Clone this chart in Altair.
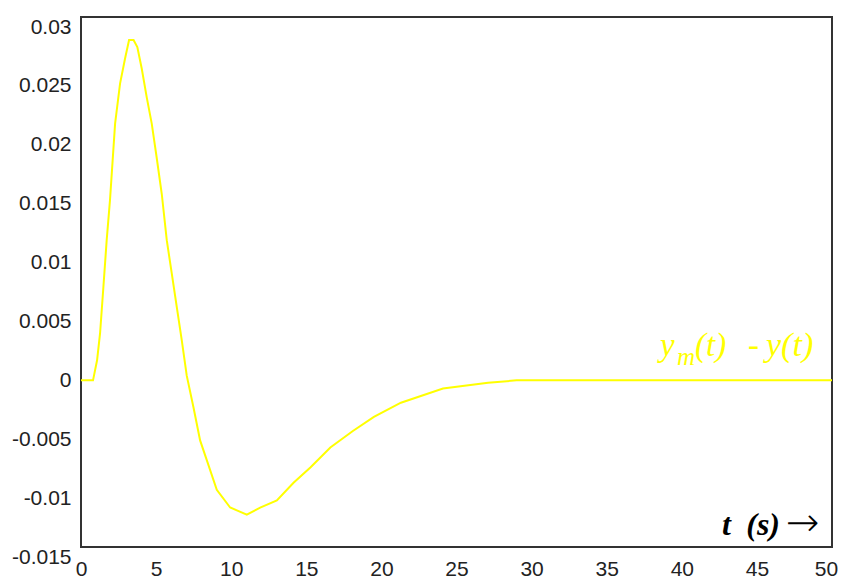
import altair as alt
import pandas as pd

# time (s) and error y_m(t) - y(t)
t_s = [0, 0.8, 1.07, 1.27, 1.49, 1.71, 1.93, 2.27, 2.6, 2.93, 3.2, 3.5, 3.75,
       4.04, 4.38, 4.71, 5.04, 5.38, 5.71, 6.04, 6.38, 6.71, 7.04, 7.49, 7.93,
       8.38, 9.04, 9.93, 11.04, 11.93, 13.04, 14.15, 15.27, 16.6, 18.1, 19.5,
       21.3, 24.1, 27.1, 29, 50]
err = [0, 0, 0.0017, 0.0040, 0.0079, 0.0119, 0.0153, 0.0218, 0.0252, 0.0273,
       0.0289, 0.0289, 0.0283, 0.0265, 0.0240, 0.0218, 0.0189, 0.0158, 0.0119,
       0.0091, 0.0062, 0.0034, 0.0004, -0.0023, -0.0051, -0.0068, -0.0093,
       -0.0108, -0.0114, -0.0108, -0.0102, -0.0087, -0.0074, -0.0057, -0.0043,
       -0.0031, -0.0019, -0.0007, -0.0002, 0, 0]

x_ticks = [0, 5, 10, 15, 20, 25, 30, 35, 40, 45, 50]
y_ticks = [-0.015, -0.01, -0.005, 0, 0.005, 0.01, 0.015, 0.02, 0.025, 0.03]

df = pd.DataFrame({"t": t_s, "e": err})
ticks_df = pd.DataFrame({"v": y_ticks})
one = pd.DataFrame({"k": [0]})

x_scale = alt.Scale(domain=[0, 50], nice=False, zero=False)
y_scale = alt.Scale(domain=[-0.01415, 0.03085], nice=False, zero=False)

lab_font = "Liberation Sans"
lab_col = "#222222"

# y axis (labels sit slightly below their grid position, as in the original)
y_axis_layer = alt.Chart(ticks_df).mark_point(opacity=0).encode(
    y=alt.Y("v:Q", scale=alt.Scale(domain=[-0.015, 0.03], nice=False, zero=False),
            axis=alt.Axis(values=y_ticks, title=None, grid=False, ticks=False,
                          domain=False, labelFont=lab_font, labelFontSize=21,
                          labelColor=lab_col, labelPadding=10, labelOffset=10,
                          labelFlush=False, labelOverlap=False, labelBound=False,
                          labelExpr="'' + datum.value")),
)

line = alt.Chart(df).mark_line(color="#ffff00", strokeWidth=2, clip=True).encode(
    x=alt.X("t:Q", scale=x_scale,
            axis=alt.Axis(values=x_ticks, title=None, grid=False, ticks=False,
                          domain=False, labelFont=lab_font, labelFontSize=21,
                          labelColor=lab_col, labelPadding=11,
                          labelFlush=False, labelOverlap=False, labelBound=False,
                          labelOffset=alt.ExprRef("datum.value == 50 ? -6 : 0"),
                          labelExpr="'' + datum.value")),
    y=alt.Y("e:Q", scale=y_scale, axis=None),
)

serif = "Liberation Serif"
yellow = "#ffff00"


def txt(text, x, y, size, align="left", baseline="alphabetic", style="italic",
        weight="normal", color=yellow, font=serif, dx=0, dy=0):
    return alt.Chart(one).mark_text(
        text=text, align=align, baseline=baseline, fontStyle=style,
        fontWeight=weight, fontSize=size, color=color, font=font, dx=dx, dy=dy
    ).encode(x=alt.XDatum(x), y=alt.YDatum(y, axis=None))


# series label  y_m(t) - y(t)
lx, ly = 38.55, 0.00207
series_label = [
    txt("y", lx, ly, 33),
    txt("m", lx, ly, 25, dx=17, dy=9),
    txt("(t)", lx, ly, 33, dx=35),
    txt("-", lx, ly, 33, dx=88),
    txt("y(t)", lx, ly, 34, dx=106),
]

# axis caption  t (s) ->
cy = -0.01228
cap = [
    txt("t", 42.68, cy, 32, baseline="middle", weight="bold", color="#000000"),
    txt("(s)", 46.54, cy, 32, align="right", baseline="middle", weight="bold",
        color="#000000"),
    txt("\u2192", 46.94, cy, 40, baseline="middle", style="normal",
        weight=200, color="#000000", font="DejaVu Sans", dy=-1),
]

inner = alt.layer(line, *series_label, *cap)

chart = alt.layer(y_axis_layer, inner).resolve_scale(y="independent").properties(
    width=751, height=530,
    padding={"left": 73, "top": 9, "right": 6, "bottom": 33},
    autosize=alt.AutoSizeParams(type="none"),
    background="#ffffff",
).configure_view(stroke="#333333", strokeWidth=2)

chart.save("out.html", embed_options={"renderer": "svg", "actions": False})
